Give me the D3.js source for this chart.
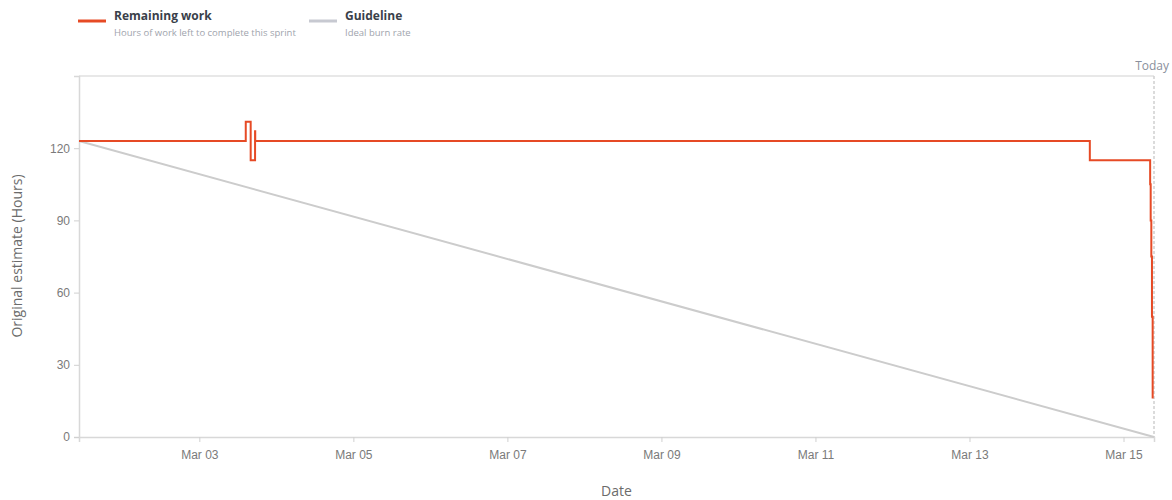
<!DOCTYPE html>
<html>
<head>
<meta charset="utf-8">
<script src="https://cdn.jsdelivr.net/npm/d3@7"></script>
<style>
  body { margin: 0; background: #fff; }
  svg { display: block; font-family: "Open Sans", "Noto Sans", sans-serif; }
</style>
</head>
<body>
<div id="chart"></div>
<script>
// burndown data
const remainingTimes = [
  '2021-03-01T10:30', '2021-03-03T14:28', '2021-03-03T16:00', '2021-03-03T17:22',
  '2021-03-03T17:25', '2021-03-14T13:30', '2021-03-15T08:18', '2021-03-15T08:28',
  '2021-03-15T08:40', '2021-03-15T08:52', '2021-03-15T09:05'
];
const remainingValues = [123, 131, 115, 127, 123, 115, 105, 90, 75, 50, 16];

const guideTimes = ['2021-03-01T10:30', '2021-03-15T09:30'];
const guideValues = [123, 0];

const todayTime = '2021-03-15T09:30';
const xTicks = ['2021-03-03', '2021-03-05', '2021-03-07', '2021-03-09', '2021-03-11', '2021-03-13', '2021-03-15'];
const yTicks = [0, 30, 60, 90, 120];

const width = 1172;
const height = 500;
const margin = { top: 76, right: 18, bottom: 63, left: 79 };

const parse = d3.isoParse;
const remaining = remainingTimes.map((t, i) => ({ date: parse(t), value: remainingValues[i] }));
const guide = guideTimes.map((t, i) => ({ date: parse(t), value: guideValues[i] }));

const svg = d3.select('#chart')
  .append('svg')
  .attr('width', width)
  .attr('height', height);

const x = d3.scaleTime()
  .domain([parse(remainingTimes[0]), parse(todayTime)])
  .range([margin.left, width - margin.right]);

const y = d3.scaleLinear()
  .domain([0, 150])
  .range([height - margin.bottom, margin.top]);

// frame
svg.append('line')
  .attr('x1', margin.left).attr('x2', width - margin.right)
  .attr('y1', margin.top).attr('y2', margin.top)
  .attr('stroke', '#e0e0e0').attr('stroke-width', 1.5);

// axes
const xAxis = svg.append('g')
  .attr('transform', `translate(0,${height - margin.bottom})`)
  .call(d3.axisBottom(x)
    .tickValues(xTicks.map(d => d3.timeParse('%Y-%m-%d')(d)))
    .tickFormat(d3.timeFormat('%b %d'))
    .tickSize(5)
    .tickPadding(8));

const yAxis = svg.append('g')
  .attr('transform', `translate(${margin.left},0)`)
  .call(d3.axisLeft(y)
    .tickValues(yTicks)
    .tickSize(5)
    .tickPadding(4));

[xAxis, yAxis].forEach(g => {
  g.select('.domain').attr('stroke', '#d8d8d8').attr('stroke-width', 1.5);
  g.selectAll('.tick line').attr('stroke', '#d0d0d0');
  g.selectAll('.tick text')
    .style('font-size', '12px')
    .style('fill', '#7a7a7a');
});

// today marker
svg.append('line')
  .attr('x1', x(parse(todayTime))).attr('x2', x(parse(todayTime)))
  .attr('y1', margin.top).attr('y2', height - margin.bottom)
  .attr('stroke', '#cfcfcf')
  .attr('stroke-width', 1.5)
  .attr('stroke-dasharray', '3,2');

svg.append('text')
  .attr('x', width - 3)
  .attr('y', 70)
  .attr('text-anchor', 'end')
  .text('Today')
  .style('font-size', '12px')
  .style('fill', '#8a8f9c');

// guideline
svg.append('path')
  .datum(guide)
  .attr('d', d3.line().x(d => x(d.date)).y(d => y(d.value)))
  .attr('fill', 'none')
  .attr('stroke', '#cccccc')
  .attr('stroke-width', 2);

// remaining work
svg.append('path')
  .datum(remaining)
  .attr('d', d3.line().curve(d3.curveStepAfter).x(d => x(d.date)).y(d => y(d.value)))
  .attr('fill', 'none')
  .attr('stroke', '#e64a25')
  .attr('stroke-width', 2);

// axis titles
svg.append('text')
  .attr('transform', `translate(22,256) rotate(-90)`)
  .attr('text-anchor', 'middle')
  .text('Original estimate (Hours)')
  .style('font-size', '14px')
  .style('fill', '#6b6b6b');

svg.append('text')
  .attr('x', (margin.left + width - margin.right) / 2)
  .attr('y', 496)
  .attr('text-anchor', 'middle')
  .text('Date')
  .style('font-size', '14px')
  .style('fill', '#6b6b6b');

// legend
const legendItems = [
  { name: 'Remaining work', desc: 'Hours of work left to complete this sprint', color: '#e64a25', x: 78 },
  { name: 'Guideline', desc: 'Ideal burn rate', color: '#c7c9d1', x: 309 }
];

const legend = svg.append('g')
  .selectAll('g')
  .data(legendItems)
  .join('g')
  .attr('transform', d => `translate(${d.x},0)`);

legend.append('line')
  .attr('x1', 0).attr('x2', 28)
  .attr('y1', 21).attr('y2', 21)
  .attr('stroke', d => d.color)
  .attr('stroke-width', 3);

legend.append('text')
  .attr('x', 36)
  .attr('y', 20)
  .text(d => d.name)
  .style('font-size', '12px')
  .style('font-weight', 'bold')
  .style('fill', '#3a3f4a');

legend.append('text')
  .attr('x', 36)
  .attr('y', 36)
  .text(d => d.desc)
  .style('font-size', '9.5px')
  .style('fill', '#a0a4ad');
</script>
</body>
</html>
